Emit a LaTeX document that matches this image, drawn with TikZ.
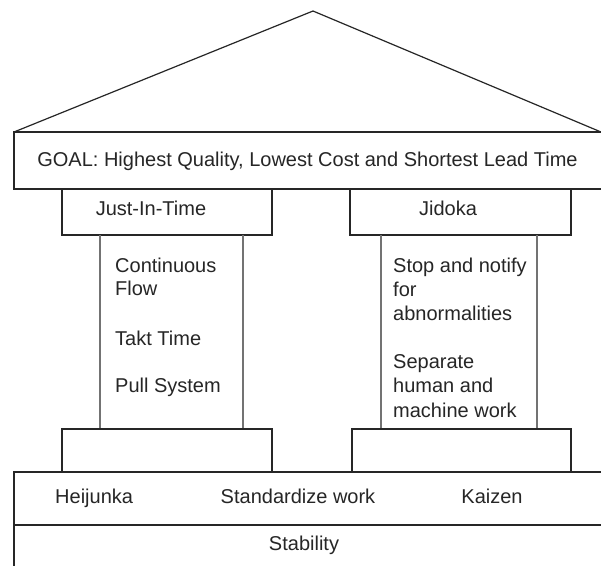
\documentclass[tikz,border=0pt]{standalone}
\usepackage{fontspec}
\setmainfont{Liberation Sans}
\begin{document}
\begin{tikzpicture}[x=1pt,y={(0pt,-1pt)},
  boxline/.style={draw=black!85, line width=1.2pt},
  colline/.style={draw=black!55, line width=1.5pt},
  lbl/.style={inner sep=0pt, text=black!85, font=\fontsize{20}{24}\selectfont},
  lblw/.style={lbl, anchor=base west},
  lblc/.style={lbl, anchor=base}]
\useasboundingbox (0,0) rectangle (601,565);
\fill[white] (0,0) rectangle (601,565);
% roof
\draw[boxline, line join=miter] (14,132) -- (313,11) -- (601,132);
% goal box
\draw[boxline] (601,132) -- (14,132) -- (14,189) -- (601,189);
% capitals
\draw[boxline] (62,189) rectangle (272,235);
\draw[boxline] (350,189) rectangle (571,235);
% columns
\draw[colline] (100,235) -- (100,429);
\draw[colline] (243,235) -- (243,429);
\draw[colline] (381,235) -- (381,429);
\draw[colline] (537,235) -- (537,429);
% bases
\draw[boxline] (62,472) -- (62,429) -- (272,429) -- (272,472);
\draw[boxline] (352,472) -- (352,429) -- (571,429) -- (571,472);
% foundation
\draw[boxline] (601,472) -- (14,472) -- (14,566);
\draw[boxline] (14,525) -- (601,525);
% texts
\node[lblc] (goal) at (307.5,166) {GOAL: Highest Quality, Lowest Cost and Shortest Lead Time};
\node[lblc] (jit) at (151,215) {Just-In-Time};
\node[lblc] (jid) at (448,215) {Jidoka};
\node[lblw] (cf1) at (115,272) {Continuous};
\node[lblw] (cf2) at (115,295) {Flow};
\node[lblw] (tt) at (115,345) {Takt Time};
\node[lblw] (ps) at (115,392) {Pull System};
\node[lblw] (sn1) at (393,272) {Stop and notify};
\node[lblw] (sn2) at (393,296) {for};
\node[lblw] (sn3) at (393,320) {abnormalities};
\node[lblw] (sh1) at (393,368) {Separate};
\node[lblw] (sh2) at (393,392) {human and};
\node[lblw] (sh3) at (393,417) {machine work};
\node[lblw] (hei) at (55,503) {Heijunka};
\node[lblc] (std) at (298,503) {Standardize work};
\node[lblc] (kai) at (492,503) {Kaizen};
\node[lblc] (stab) at (304,550) {Stability};
\end{tikzpicture}
\end{document}
